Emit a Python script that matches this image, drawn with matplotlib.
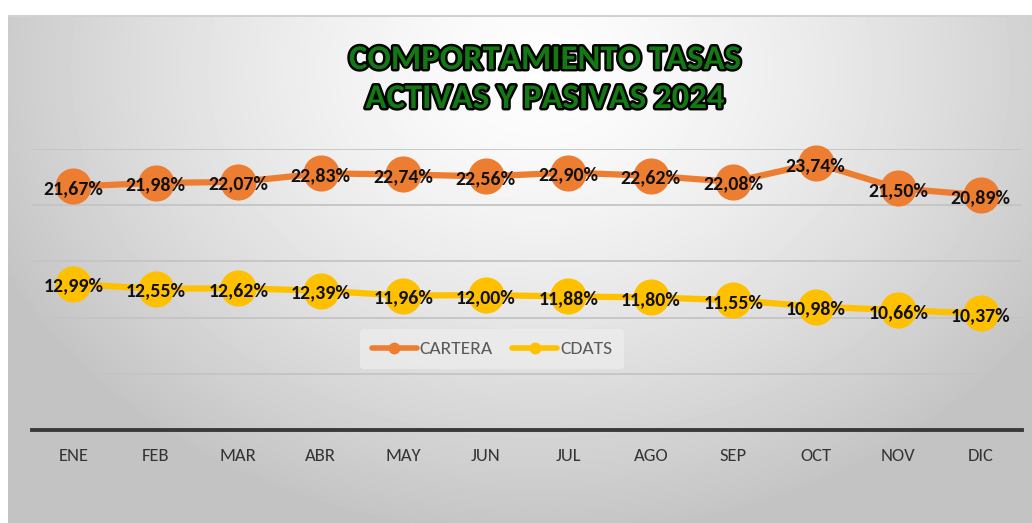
import numpy as np
import matplotlib
matplotlib.use("Agg")
import matplotlib.pyplot as plt
import matplotlib.patheffects as pe

# ---- data ----
meses = ["ENE", "FEB", "MAR", "ABR", "MAY", "JUN", "JUL", "AGO", "SEP", "OCT", "NOV", "DIC"]
cartera = [21.67, 21.98, 22.07, 22.83, 22.74, 22.56, 22.90, 22.62, 22.08, 23.74, 21.50, 20.89]
cdats = [12.99, 12.55, 12.62, 12.39, 11.96, 12.00, 11.88, 11.80, 11.55, 10.98, 10.66, 10.37]

plt.rcParams["font.family"] = ["Carlito", "DejaVu Sans"]

W, H = 1032, 523
fig = plt.figure(figsize=(W / 100, H / 100), dpi=100)

# ---- background: radial grey gradient, white margin top/left ----
bg = fig.add_axes([0, 0, 1, 1])
yy, xx = np.mgrid[0:H, 0:W]
r = np.sqrt(((xx - 540) / 600.0) ** 2 + ((yy - 70) / 470.0) ** 2)
val = 0.995 - 0.23 * np.clip(r, 0, 1) ** 1.4
val[yy < 15] = 1.0
val[xx < 8] = 1.0
val[(yy >= 15) & (yy < 17) & (xx >= 8)] = 0.82
bg.imshow(val, cmap="gray", vmin=0, vmax=1, extent=[0, W, H, 0], aspect="auto", zorder=0)
bg.set_xlim(0, W)
bg.set_ylim(H, 0)
bg.axis("off")

# ---- main plot area ----
ax = fig.add_axes([32 / W, (H - 430) / H, (1022 - 32) / W, (430 - 149) / H])
ax.set_facecolor("none")
x = np.arange(len(meses))

naranja = "#ED7D31"
amarillo = "#FFC000"
ax.plot(x, cartera, color=naranja, lw=4.5, marker="o", ms=25, label="CARTERA",
        solid_capstyle="round", clip_on=False, zorder=3)
ax.plot(x, cdats, color=amarillo, lw=4.5, marker="o", ms=25, label="CDATS",
        solid_capstyle="round", clip_on=False, zorder=3)

for serie in (cartera, cdats):
    for xi, v in zip(x, serie):
        ax.annotate(f"{v:.2f}%".replace(".", ","), (xi, v), xytext=(0, -1.5),
                    textcoords="offset points", ha="center", va="center",
                    fontsize=14.3, fontweight="bold", color="#111111", zorder=5)

ax.set_xlim(-0.5, len(meses) - 0.5)
ax.set_ylim(0, 25)
ax.set_yticks([5, 10, 15, 20, 25])
ax.yaxis.grid(True, color="#c4c4c4", lw=1.3)
ax.set_axisbelow(True)
ax.tick_params(axis="y", left=False, labelleft=False)
ax.tick_params(axis="x", length=0, pad=13, labelsize=13.3, labelcolor="#333333")
ax.set_xticks(x)
ax.set_xticklabels(meses)
for s in ["top", "right", "left"]:
    ax.spines[s].set_visible(False)
ax.spines["bottom"].set_color("#3a3a3a")
ax.spines["bottom"].set_linewidth(2.8)

# ---- legend ----
leg = fig.legend(loc="center", bbox_to_anchor=(492 / W, (H - 349) / H), ncol=2,
                 fontsize=14, frameon=True, facecolor="#eeeeee", edgecolor="none",
                 framealpha=0.7, markerscale=0.3, handlelength=2.3, columnspacing=1.0,
                 handletextpad=0.15, borderpad=0.6)
for t in leg.get_texts():
    t.set_color("#595959")
for h in leg.legend_handles:
    h.set_linewidth(4)

# ---- title ----
for texto, ypx in [("COMPORTAMIENTO TASAS", 57), ("ACTIVAS Y PASIVAS 2024", 96)]:
    fig.text(545 / W, (H - ypx) / H, texto, ha="center", va="center_baseline", fontsize=25,
             fontweight="bold", color="#137a13",
             path_effects=[pe.withStroke(linewidth=3.5, foreground="black")])

fig.savefig("out.png", dpi=100)
